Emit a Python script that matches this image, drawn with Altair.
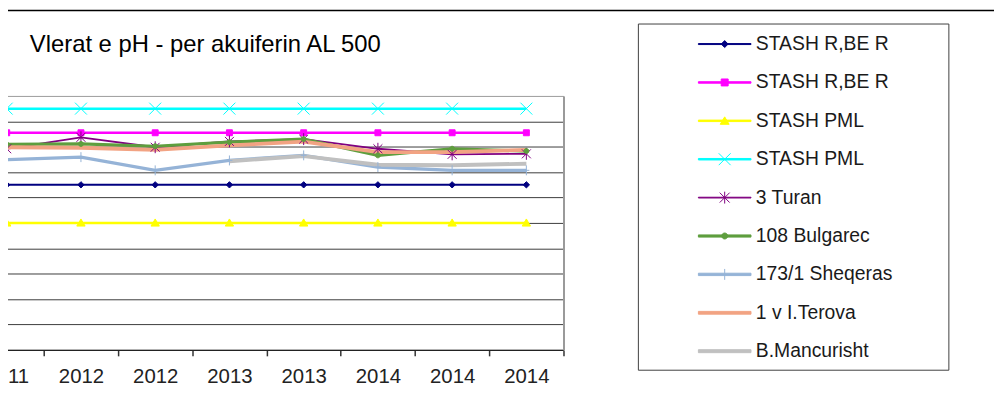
import json
import altair as alt
import pandas as pd

# ---------------- data ----------------
years = ["2011", "2012", "2012", "2013", "2013", "2014", "2014", "2014"]

series_ids = ["s1", "s2", "s3", "s4", "s5", "s6", "s7", "s8", "s9"]
series_names = [
    "STASH R,BE R",
    "STASH R,BE R",
    "STASH PML",
    "STASH PML",
    "3 Turan",
    "108 Bulgarec",
    "173/1 Sheqeras",
    "1 v I.Terova",
    "B.Mancurisht",
]

stash_rbe_min = [6.5, 6.5, 6.5, 6.5, 6.5, 6.5, 6.5, 6.5]
stash_rbe_max = [8.55, 8.55, 8.55, 8.55, 8.55, 8.55, 8.55, 8.55]
stash_pml_min = [5.0, 5.0, 5.0, 5.0, 5.0, 5.0, 5.0, 5.0]
stash_pml_max = [9.5, 9.5, 9.5, 9.5, 9.5, 9.5, 9.5, 9.5]
turan_3 = [7.92, 8.37, 7.98, 8.21, 8.30, 7.92, 7.70, 7.72]
bulgarec_108 = [8.09, 8.11, 8.02, 8.18, 8.30, 7.66, 7.92, 7.83]
sheqeras_173 = [7.49, 7.59, 7.07, 7.46, 7.66, 7.20, 7.07, 7.07]
terova_1v = [7.98, 7.96, 7.88, 8.05, 8.20, 7.79, 7.79, 7.88]
mancurisht = [None, None, None, 7.43, 7.63, 7.29, 7.27, 7.33]

values = [stash_rbe_min, stash_rbe_max, stash_pml_min, stash_pml_max,
          turan_3, bulgarec_108, sheqeras_173, terova_1v, mancurisht]

rows = []
for sid, vals in zip(series_ids, values):
    for i, v in enumerate(vals):
        rows.append({"id": sid, "i": i, "pH": v})
df = pd.DataFrame(rows)

# ---------------- styles ----------------
colors = ["#000080", "#FF00FF", "#FFFF00", "#00FFFF", "#800080",
          "#5E9E3E", "#95B3D7", "#F2A383", "#C0C0C0"]
line_widths = [2, 2.5, 2.5, 2.5, 1.8, 3.2, 3.4, 3.8, 4]

# plot markers in pixel units (size 4 -> 1 unit = 1 px)
marker_ids = series_ids[:7]
marker_paths = [
    "M0,-3.2L3.2,0L0,3.2L-3.2,0Z",
    "M-3,-3L3,-3L3,3L-3,3Z",
    "M0,-4L4.2,3.2L-4.2,3.2Z",
    "M-6,-6L6,6M-6,6L6,-6",
    "M-4.5,-4.5L4.5,4.5M-4.5,4.5L4.5,-4.5M0,-6L0,6",
    "M-2.5,0A2.5,2.5,0,1,1,2.5,0A2.5,2.5,0,1,1,-2.5,0Z",
    "M0,-5L0,5M-3,0L3,0",
]

# legend symbols: line segment + marker (pixel geometry -> unit coords)
K = 26.5


def u(v):
    return f"{v / K:.4f}"


def seg(t):
    h = max((t - 1) / 2, 0.05)
    return f"M{u(-K)},{u(-h)}L{u(K)},{u(-h)}L{u(K)},{u(h)}L{u(-K)},{u(h)}Z"


def poly(pts):
    return "M" + "L".join(f"{u(a)},{u(b)}" for a, b in pts) + "Z"


def segs(pairs):
    return "".join(f"M{u(a)},{u(b)}L{u(c)},{u(d)}" for a, b, c, d in pairs)


def circ(r):
    return f"M{u(-r)},0A{u(r)},{u(r)},0,1,1,{u(r)},0A{u(r)},{u(r)},0,1,1,{u(-r)},0Z"


legend_markers = [
    poly([(0, -3.5), (3.5, 0), (0, 3.5), (-3.5, 0)]),
    poly([(-3.5, -3.5), (3.5, -3.5), (3.5, 3.5), (-3.5, 3.5)]),
    poly([(0, -4), (4.5, 3.5), (-4.5, 3.5)]),
    segs([(-6, -6, 6, 6), (-6, 6, 6, -6)]),
    segs([(-5, -5, 5, 5), (-5, 5, 5, -5), (0, -6, 0, 6)]),
    circ(3),
    segs([(0, -5.5, 0, 5.5)]),
    "",
    "",
]
legend_paths = [seg(w) + m for w, m in zip(line_widths, legend_markers)]

label_expr = f"{json.dumps(series_names)}[indexof({json.dumps(series_ids)}, datum.value)]"
year_expr = f"datum.value % 1 == 0 ? {json.dumps(years)}[datum.value] : ''"

FONT = "Liberation Sans"

x_enc = alt.X(
    "i:Q",
    scale=alt.Scale(domain=[-0.0896, 7.5], nice=False, zero=False),
    axis=alt.Axis(
        values=[k / 2 for k in range(2 * len(years))],
        labelExpr=year_expr,
        title=None,
        grid=False,
        tickSize=6,
        tickColor="#333333",
        tickWidth=1.5,
        tickOpacity={"condition": {"test": "datum.value % 1 != 0", "value": 1}, "value": 0},
        domainColor="#222222",
        domainWidth=1.5,
        labelFontSize=20.5,
        labelFont=FONT,
        labelColor="#222222",
        labelPadding=10.5,
        labelOverlap=False,
        labelFlush=False,
    ),
)
y_enc = alt.Y(
    "pH:Q",
    scale=alt.Scale(domain=[0, 10], nice=False),
    axis=alt.Axis(
        orient="right",
        values=list(range(0, 11)),
        labels=False,
        ticks=False,
        title=None,
        domain=True,
        domainColor="#9a9a9a",
        domainWidth=2,
        grid=True,
        gridColor={"condition": {"test": "datum.value == 10", "value": "#a0a0a0"}, "value": "#3c3c3c"},
    ),
)

color_scale = alt.Scale(domain=series_ids, range=colors)

line_layers = []
for sid, col, w in zip(series_ids, colors, line_widths):
    line_layers.append(
        alt.Chart(df)
        .transform_filter(alt.datum.id == sid)
        .mark_line(color=col, strokeWidth=w)
        .encode(x=x_enc, y=y_enc)
    )

markers = alt.Chart(df).mark_point(size=4, strokeWidth=1, opacity=1).encode(
    x=x_enc,
    y=y_enc,
    shape=alt.Shape("id:N", scale=alt.Scale(domain=marker_ids, range=marker_paths), legend=None),
    stroke=alt.Stroke("id:N", scale=color_scale, legend=None),
    fill=alt.Fill("id:N", scale=color_scale, legend=None),
).transform_filter(alt.FieldOneOfPredicate(field="id", oneOf=marker_ids))

leg = alt.Legend(
    title=None,
    orient="none",
    legendX=643,
    legendY=-72.3,
    padding=10,
    symbolOffset=50.5,
    labelOffset=4.4,
    clipHeight=20,
    rowPadding=18.7,
    labelFontSize=19.5,
    labelFont=FONT,
    labelColor="#1a1a1a",
    labelLimit=400,
    labelExpr=label_expr,
    symbolSize=2809,
    symbolStrokeWidth=1,
    symbolOpacity=1,
)

legend_layer = alt.Chart(df).mark_point(size=2809, strokeWidth=1, opacity=0).encode(
    x=x_enc,
    y=y_enc,
    shape=alt.Shape("id:N", scale=alt.Scale(domain=series_ids, range=legend_paths), legend=leg),
    stroke=alt.Stroke("id:N", scale=color_scale, legend=leg),
    fill=alt.Fill("id:N", scale=color_scale, legend=leg),
)

# frame of the legend box and the dark rule at the top of the picture
legend_frame = alt.Chart(alt.Data(values=[{}])).mark_rect(
    fill="white", fillOpacity=0, stroke="#404040", strokeWidth=1
).encode(
    x=alt.value(643.5), x2=alt.value(956.5), y=alt.value(-72.5), y2=alt.value(276.5)
)

top_rule = alt.Chart(alt.Data(values=[{}])).mark_rule(color="black", strokeWidth=1.5).encode(
    x=alt.value(-20), x2=alt.value(1010), y=alt.value(-86.2)
)

chart = (
    alt.layer(*line_layers, markers, legend_layer, legend_frame, top_rule)
    .resolve_scale(stroke="independent", fill="independent", shape="independent")
    .properties(
        width=568,
        height=256,
        padding={"left": -8, "top": 87, "right": 434, "bottom": 65},
        autosize=alt.AutoSizeParams(type="none"),
        title=alt.Title(
            "Vlerat e pH - per akuiferin AL 500",
            anchor="start",
            frame="group",
            dx=30,
            dy=67,
            fontSize=24,
            font=FONT,
            fontWeight="normal",
            color="black",
            baseline="alphabetic",
            offset=0,
        ),
    )
    .configure_view(strokeWidth=0)
    .configure(font=FONT, background="white")
)

chart.save("out.html", embed_options={"renderer": "svg", "actions": False})
